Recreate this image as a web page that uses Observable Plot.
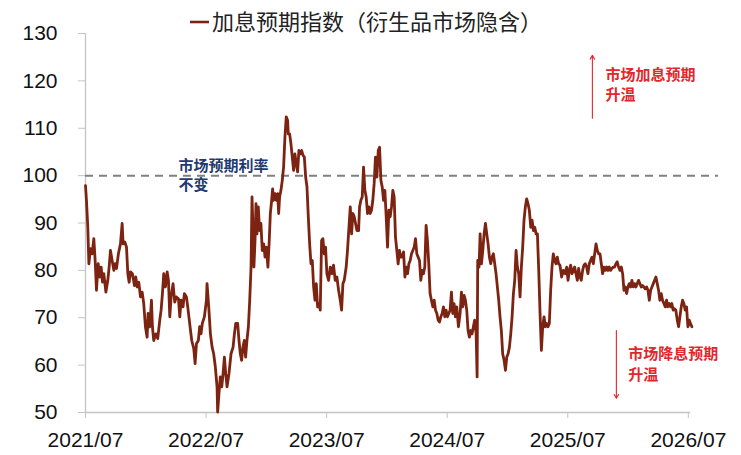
<!DOCTYPE html>
<html>
<head>
<meta charset="utf-8">
<script src="https://cdn.jsdelivr.net/npm/d3@7"></script>
<script src="https://cdn.jsdelivr.net/npm/@observablehq/plot@0.6"></script>
<style>
  body { margin: 0; background: #fff; }
</style>
</head>
<body>
<div id="chart"></div>
<script>
// ---------- data ----------
const seriesName = "加息预期指数（衍生品市场隐含）";
const xTickValues = [2021.5, 2022.5, 2023.5, 2024.5, 2025.5, 2026.5];
const xTickLabels = ["2021/07", "2022/07", "2023/07", "2024/07", "2025/07", "2026/07"];
const yTickValues = [50, 60, 70, 80, 90, 100, 110, 120, 130];
const referenceLevel = 100;
const labelUnchanged = ["市场预期利率", "不变"];
const labelHike = ["市场加息预期", "升温"];
const labelCut = ["市场降息预期", "升温"];

// decimal-year dates and index values
const dates = [
  2021.500,2021.508,2021.519,2021.528,2021.541,2021.555,2021.569,2021.580,2021.591,2021.605,
  2021.619,2021.630,2021.641,2021.652,2021.669,2021.685,2021.696,2021.707,2021.721,2021.735,
  2021.746,2021.757,2021.773,2021.790,2021.804,2021.812,2021.826,2021.840,2021.851,2021.862,
  2021.873,2021.889,2021.906,2021.917,2021.928,2021.942,2021.956,2021.970,2021.983,2021.997,
  2022.011,2022.019,2022.033,2022.047,2022.055,2022.066,2022.083,2022.099,2022.116,2022.127,
  2022.138,2022.149,2022.163,2022.177,2022.188,2022.199,2022.210,2022.226,2022.240,2022.254,
  2022.271,2022.282,2022.293,2022.309,2022.320,2022.337,2022.348,2022.364,2022.381,2022.398,
  2022.409,2022.420,2022.436,2022.447,2022.458,2022.469,2022.486,2022.503,
  2022.508,2022.522,2022.536,2022.550,2022.563,2022.577,2022.591,2022.596,2022.607,2022.618,
  2022.630,2022.641,2022.652,2022.663,2022.674,2022.690,2022.707,2022.724,2022.735,2022.746,
  2022.762,2022.773,2022.784,2022.795,2022.806,2022.817,2022.828,2022.839,2022.851,2022.862,
  2022.873,2022.881,2022.889,2022.897,2022.906,2022.914,2022.922,2022.933,2022.944,2022.955,
  2022.966,2022.978,2022.989,2023.000,2023.013,2023.024,2023.033,2023.044,2023.052,2023.060,
  2023.071,2023.082,2023.094,2023.102,2023.110,2023.121,2023.132,2023.143,2023.154,2023.165,
  2023.176,2023.182,2023.193,2023.204,2023.215,2023.226,2023.237,2023.248,2023.259,2023.270,
  2023.281,2023.293,2023.304,2023.315,2023.326,2023.337,2023.348,2023.359,2023.370,2023.381,
  2023.392,2023.403,2023.414,2023.425,2023.436,2023.447,2023.458,2023.469,2023.480,2023.491,
  2023.502,
  2023.516,2023.530,2023.544,2023.557,2023.571,2023.585,2023.599,2023.613,2023.624,2023.635,
  2023.646,2023.662,2023.673,2023.685,2023.696,2023.707,2023.718,2023.729,2023.740,2023.751,
  2023.765,2023.773,2023.784,2023.795,2023.806,2023.817,2023.828,2023.839,2023.850,2023.861,
  2023.872,2023.883,2023.894,2023.905,2023.917,2023.928,2023.939,2023.950,2023.961,2023.972,
  2023.983,2023.994,2024.005,2024.016,2024.027,2024.038,2024.049,2024.060,2024.071,2024.082,
  2024.093,2024.104,2024.115,2024.126,2024.138,2024.149,2024.160,2024.171,2024.182,2024.193,
  2024.204,2024.215,2024.226,2024.237,2024.248,2024.259,2024.270,2024.281,2024.292,2024.303,
  2024.314,2024.325,2024.336,2024.347,2024.358,2024.369,2024.381,2024.392,2024.403,2024.414,
  2024.425,2024.436,2024.447,2024.458,2024.469,2024.480,2024.491,2024.502,
  2024.513,2024.524,2024.535,2024.546,2024.557,2024.568,2024.579,2024.593,2024.607,2024.618,
  2024.629,2024.640,2024.651,2024.662,2024.673,2024.684,2024.695,2024.706,2024.717,2024.728,
  2024.740,2024.748,2024.753,2024.764,2024.773,2024.784,2024.795,2024.806,2024.817,2024.828,
  2024.839,2024.850,2024.861,2024.872,2024.883,2024.894,2024.905,2024.916,2024.927,2024.938,
  2024.949,2024.960,2024.972,2024.983,2024.994,2025.005,2025.016,2025.027,2025.038,2025.049,
  2025.060,2025.071,2025.082,2025.093,2025.104,2025.115,2025.126,2025.137,2025.148,2025.159,
  2025.170,2025.181,2025.193,2025.204,2025.215,2025.226,2025.237,2025.248,2025.259,2025.270,
  2025.281,2025.292,2025.303,2025.314,2025.325,2025.336,2025.347,2025.358,2025.369,2025.380,
  2025.391,2025.402,2025.413,2025.424,
  2025.435,2025.449,2025.463,2025.477,2025.491,2025.502,2025.513,2025.524,2025.535,2025.546,
  2025.557,2025.568,2025.579,2025.590,2025.601,2025.612,2025.623,2025.634,2025.645,2025.656,
  2025.667,2025.678,2025.689,2025.701,2025.712,2025.723,2025.734,2025.745,2025.756,2025.767,
  2025.778,2025.789,2025.800,2025.811,2025.822,2025.833,2025.844,2025.855,2025.866,2025.877,
  2025.888,2025.899,2025.910,2025.921,2025.933,2025.944,2025.955,2025.966,2025.977,2025.988,
  2025.999,2026.010,2026.021,2026.032,2026.043,2026.054,2026.065,2026.076,2026.087,2026.098,
  2026.109,2026.120,2026.131,2026.142,2026.154,2026.165,2026.176,2026.187,2026.198,2026.209,
  2026.220,2026.231,2026.242,2026.253,2026.264,2026.275,2026.286,2026.297,2026.308,2026.319,
  2026.330,2026.341,2026.352,2026.363,2026.374,2026.385,2026.396,2026.408,2026.419,2026.430,
  2026.441,2026.452,2026.463,2026.474,2026.485,2026.496,2026.507,2026.518,2026.529
];
const values = [
  97.9,94.8,89.1,81.4,84.6,83.5,86.7,82.1,75.8,81.4,
  78.6,80.7,77.5,79.3,75.4,77.9,80.7,84.2,82.1,80.0,
  81.4,80.4,83.5,85.6,89.9,85.6,86.0,84.9,79.3,77.5,
  79.7,79.3,76.8,78.6,76.5,77.5,74.4,75.4,73.0,68.1,
  65.9,70.9,68.1,73.7,68.1,65.2,66.6,65.6,69.5,71.6,
  75.1,79.3,76.5,79.7,77.9,70.2,74.4,77.2,73.3,74.4,
  74.0,70.2,73.7,72.3,75.1,74.4,72.3,68.8,65.2,63.5,
  60.3,64.5,65.2,68.1,66.6,68.8,70.2,73.7,
  77.2,72.3,66.6,63.8,62.4,59.6,55.4,50.1,54.0,57.5,
  55.4,58.2,61.7,58.2,55.4,58.2,62.4,63.8,66.6,68.8,
  68.8,65.2,62.4,61.0,63.8,65.2,61.7,65.2,68.1,73.7,
  80.7,95.5,89.1,80.7,86.3,94.1,87.7,93.4,88.4,89.9,
  84.2,85.6,82.8,84.9,80.7,86.3,92.0,94.8,97.2,94.8,
  96.2,94.8,96.2,92.0,95.5,96.9,99.0,101.8,108.1,112.4,
  111.7,108.8,108.8,106.7,103.9,101.1,104.6,102.5,100.8,105.3,
  104.6,105.3,104.3,103.9,99.7,97.6,91.3,85.6,81.4,82.1,
  76.5,73.7,77.2,72.3,73.0,71.6,86.3,86.7,83.5,84.9,
  79.3,
  77.9,80.7,79.3,81.1,77.9,78.6,75.8,73.7,71.6,77.2,
  77.9,80.7,84.2,89.1,93.4,87.7,92.0,91.3,89.9,88.4,
  88.4,93.4,94.8,95.5,101.8,96.9,95.5,92.0,93.4,92.0,
  92.7,94.8,98.3,103.9,99.7,105.3,106.0,99.0,97.6,94.8,
  96.9,91.3,84.9,92.7,91.3,93.4,96.9,95.5,87.0,84.2,
  81.4,84.2,82.8,82.8,83.9,78.6,80.7,79.3,81.4,82.1,
  83.5,84.2,84.9,86.7,83.5,82.8,82.1,77.9,80.0,79.3,
  80.7,89.5,86.3,81.4,75.1,73.7,72.3,73.7,71.6,70.9,
  69.5,69.1,70.2,70.9,72.3,70.2,71.6,70.2,
  70.9,71.6,75.4,70.9,73.0,70.2,72.3,68.1,70.9,75.4,
  72.3,74.7,73.7,71.6,67.3,65.9,67.3,66.6,68.1,69.5,
  66.6,57.5,82.1,80.7,87.7,81.4,84.2,87.7,89.9,87.7,
  85.6,82.8,81.4,82.8,83.5,81.4,79.3,76.5,73.7,70.2,
  67.3,62.4,61.0,58.9,61.7,62.4,63.8,66.6,70.2,75.1,
  77.9,84.2,80.7,79.3,74.4,80.7,84.9,90.6,93.4,95.1,
  94.1,92.7,89.1,90.6,88.4,89.1,87.7,87.7,80.0,70.9,
  63.1,68.1,70.2,68.1,68.8,68.1,68.8,75.8,80.7,83.5,
  82.1,81.4,82.8,81.4,
  81.1,78.6,80.0,79.3,80.7,77.9,80.0,81.1,79.3,80.0,
  80.7,79.3,77.9,80.4,78.6,77.9,80.0,81.1,81.4,80.7,
  79.3,81.4,82.1,82.8,81.4,83.5,85.6,84.2,83.5,83.5,
  81.4,79.3,80.7,80.0,80.7,80.0,80.7,80.0,80.4,80.7,
  80.7,81.4,81.8,80.7,80.0,80.7,79.3,75.8,76.5,75.1,
  76.5,77.2,76.5,77.9,76.5,77.2,76.5,77.2,77.9,77.2,
  76.5,76.8,76.5,76.1,76.5,75.8,73.7,75.8,76.5,77.2,
  77.9,78.6,77.2,75.8,73.7,75.1,73.7,73.0,72.3,73.7,
  72.3,73.0,72.3,73.0,71.6,71.9,71.6,69.5,68.1,70.2,
  72.3,73.7,73.0,71.6,72.3,68.1,69.5,68.8,68.1
];

// ---------- build ----------
const data = dates.map((d, i) => ({ t: d, v: values[i] }));
const lineColor = "#7d2312";
const red = "#e3262b";
const navy = "#1f3a6e";
const cjk = "'Noto Sans CJK SC', 'Noto Sans', sans-serif";
const latin = "'Liberation Sans', Arial, 'DejaVu Sans', sans-serif";

const titleMark = () => {
  const g = d3.create("svg:g");
  g.append("line")
    .attr("x1", 190).attr("x2", 209).attr("y1", 22).attr("y2", 22)
    .attr("stroke", lineColor).attr("stroke-width", 2.6);
  g.append("text")
    .attr("x", 212).attr("y", 22).attr("dy", "0.35em")
    .attr("text-anchor", "start")
    .attr("font-family", cjk).attr("font-size", 22).attr("fill", "#222")
    .text(seriesName);
  return g.node();
};

const linesOf = (arr, x, yTop, yStep) => arr.map((s, i) => ({ s, x, y: yTop - i * yStep }));

const chart = Plot.plot({
  width: 741,
  height: 455,
  marginLeft: 85,
  marginRight: 23,
  marginTop: 33,
  marginBottom: 43,
  x: { domain: [2021.5, 2026.75] },
  y: { domain: [50, 130] },
  style: { fontFamily: latin, fontSize: "21px", color: "#111", background: "#fff", overflow: "visible" },
  marks: [
    Plot.ruleX([2021.5], { stroke: "#c4c4c4", strokeWidth: 1.3 }),
    Plot.ruleY([{ y: 50, a: 2021.5, b: 2026.52 }], { y: "y", x1: "a", x2: "b", stroke: "#c4c4c4", strokeWidth: 1.3 }),
    Plot.axisY(yTickValues, { tickSize: 7, tickPadding: 21, stroke: "#c4c4c4", fill: "#111", fontSize: 21, fontFamily: latin }),
    Plot.axisX(xTickValues, {
      tickSize: 6, tickPadding: 14, stroke: "#c4c4c4", fill: "#111", fontSize: 21, fontFamily: latin,
      tickFormat: d => xTickLabels[xTickValues.indexOf(d)]
    }),
    Plot.ruleY([{ y: referenceLevel, a: 2021.5, b: 2026.75 }], {
      y: "y", x1: "a", x2: "b", stroke: "#808080", strokeWidth: 2, strokeDasharray: "8,6"
    }),
    Plot.line(data, { x: "t", y: "v", stroke: lineColor, strokeWidth: 2.8, strokeLinejoin: "round" }),
    Plot.text(linesOf(labelUnchanged, 2022.271, 101.9, 4.0), {
      x: "x", y: "y", text: "s", textAnchor: "start", fill: navy, fontFamily: cjk, fontSize: 15, fontWeight: "bold"
    }),
    Plot.text(linesOf(labelHike, 2025.812, 121.1, 4.2), {
      x: "x", y: "y", text: "s", textAnchor: "start", fill: red, fontFamily: cjk, fontSize: 15, fontWeight: "bold"
    }),
    Plot.text(linesOf(labelCut, 2026.002, 62.3, 4.4), {
      x: "x", y: "y", text: "s", textAnchor: "start", fill: red, fontFamily: cjk, fontSize: 15, fontWeight: "bold"
    }),
    Plot.arrow([{ a: 2025.704, b: 112.1, c: 2025.704, d: 125.4 }, { a: 2025.903, b: 67.3, c: 2025.903, d: 53.0 }], {
      x1: "a", y1: "b", x2: "c", y2: "d", stroke: red, strokeWidth: 1.1, headLength: 6
    }),
    titleMark
  ]
});

document.getElementById("chart").appendChild(chart);
</script>
</body>
</html>
